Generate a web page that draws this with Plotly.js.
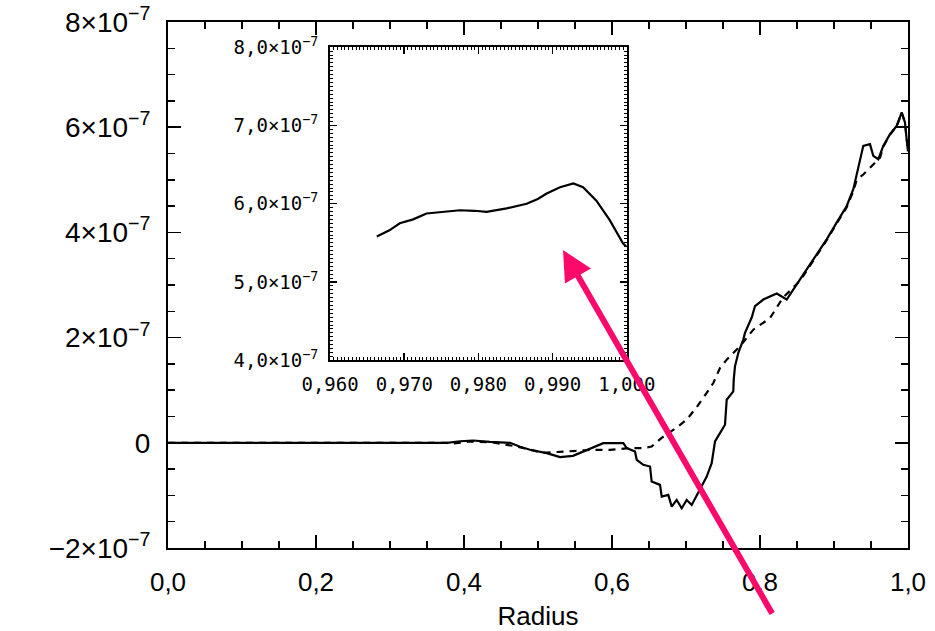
<!DOCTYPE html>
<html>
<head>
<meta charset="utf-8">
<script src="https://cdn.plot.ly/plotly-3.0.1.min.js"></script>
<style>html,body{margin:0;padding:0;background:#fff;}#chart{width:935px;height:631px;}</style>
</head>
<body>
<div id="chart"></div>
<script>
// Main panel: values of the y quantity in units of 1e-7
const solidRadius = [0, 0.377, 0.3946, 0.4122, 0.4351, 0.4622, 0.4757, 0.4892, 0.5118, 0.5297, 0.5473, 0.5658, 0.5882, 0.6153, 0.6199, 0.6311, 0.6334, 0.6423, 0.6514, 0.6536, 0.6649, 0.6672, 0.6761, 0.6807, 0.6874, 0.6942, 0.7009, 0.7077, 0.7145, 0.7212, 0.7280, 0.7347, 0.7392, 0.7459, 0.7527, 0.7550, 0.7639, 0.7645, 0.7662, 0.7707, 0.7774, 0.7797, 0.7888, 0.7932, 0.8045, 0.8226, 0.8361, 0.8541, 0.8720, 0.8901, 0.9036, 0.9172, 0.9261, 0.9328, 0.9396, 0.9486, 0.9531, 0.9599, 0.9666, 0.9757, 0.9847, 0.9915, 0.9959, 0.9982, 1.0];
const solidValue = [0, 0, 0.029, 0.044, 0.019, 0, -0.076, -0.133, -0.196, -0.272, -0.248, -0.133, -0.006, -0.006, -0.101, -0.166, -0.324, -0.419, -0.451, -0.737, -0.800, -1.023, -0.991, -1.213, -1.086, -1.244, -1.086, -1.181, -0.991, -0.832, -0.642, -0.387, 0.025, 0.185, 0.343, 0.819, 0.977, 1.2, 1.454, 1.709, 1.962, 2.09, 2.381, 2.597, 2.724, 2.838, 2.724, 3.105, 3.486, 3.867, 4.185, 4.502, 4.820, 5.201, 5.645, 5.677, 5.454, 5.391, 5.645, 5.867, 6.026, 6.281, 6.090, 5.77, 5.54];

const dashedRadius = [0, 0.377, 0.3811, 0.4081, 0.4392, 0.4712, 0.5068, 0.5388, 0.5743, 0.5973, 0.6243, 0.6423, 0.6536, 0.6667, 0.6874, 0.7009, 0.7145, 0.7280, 0.7369, 0.7459, 0.7550, 0.7730, 0.7909, 0.8135, 0.8311, 0.8541, 0.8720, 0.8901, 0.9036, 0.9172, 0.9261, 0.9307, 0.9396, 0.9486, 0.9622, 0.9666, 0.9757, 0.9847, 0.9915, 0.9959, 0.9982, 1.0];
const dashedValue = [0, 0, -0.019, 0.025, 0.006, -0.070, -0.191, -0.165, -0.133, -0.133, -0.10, -0.10, -0.07, 0.09, 0.29, 0.44, 0.68, 0.95, 1.137, 1.42, 1.581, 1.835, 2.15, 2.37, 2.76, 3.08, 3.46, 3.85, 4.17, 4.48, 4.78, 5.0, 5.10, 5.23, 5.42, 5.63, 5.86, 6.02, 6.27, 6.09, 5.77, 5.54];

// Inset panel
const insetRadius = [0.9663, 0.9680, 0.9694, 0.9712, 0.9730, 0.9752, 0.9775, 0.9795, 0.9811, 0.9838, 0.9865, 0.9880, 0.9892, 0.9910, 0.9928, 0.9941, 0.9959, 0.9977, 0.9995, 1.0];
const insetValue = [5.58, 5.66, 5.75, 5.80, 5.875, 5.90, 5.917, 5.91, 5.895, 5.94, 6.0, 6.06, 6.13, 6.21, 6.26, 6.21, 6.04, 5.79, 5.49, 5.45];

// Tick labels
const mainXTicks = [0, 0.2, 0.4, 0.6, 0.8, 1.0];
const mainXLabels = ['0,0', '0,2', '0,4', '0,6', '0,8', '1,0'];
const mainYTicks = [-2, 0, 2, 4, 6, 8];
const mainYLabels = ['−2×10<sup>−7</sup>', '0', '2×10<sup>−7</sup>', '4×10<sup>−7</sup>', '6×10<sup>−7</sup>', '8×10<sup>−7</sup>'];
const insetXTicks = [0.96, 0.97, 0.98, 0.99, 1.0];
const insetXLabels = ['0,960', '0,970', '0,980', '0,990', '1,000'];
const insetYTicks = [4, 5, 6, 7, 8];
const insetYLabels = ['4,0×10<sup>−7</sup>', '5,0×10<sup>−7</sup>', '6,0×10<sup>−7</sup>', '7,0×10<sup>−7</sup>', '8,0×10<sup>−7</sup>'];

const traces = [
  {x: dashedRadius, y: dashedValue, type: 'scatter', mode: 'lines', xaxis: 'x', yaxis: 'y',
   line: {color: '#000', width: 2.2, dash: '7px,6px'}, hoverinfo: 'skip'},
  {x: solidRadius, y: solidValue, type: 'scatter', mode: 'lines', xaxis: 'x', yaxis: 'y',
   line: {color: '#000', width: 2.2}, hoverinfo: 'skip'},
  {x: insetRadius, y: insetValue, type: 'scatter', mode: 'lines', xaxis: 'x2', yaxis: 'y2',
   line: {color: '#000', width: 2.2}, hoverinfo: 'skip'}
];

const mainFont = {family: 'Liberation Sans, Arial, sans-serif', size: 26, color: '#000'};
const mainYFont = {family: 'Liberation Sans, Arial, sans-serif', size: 28, color: '#000'};
const insetFont = {family: 'DejaVu Sans Mono, monospace', size: 19, color: '#000'};

const layout = {
  width: 935, height: 631,
  margin: {l: 168, r: 27, t: 22, b: 83, pad: 0},
  paper_bgcolor: '#fff', plot_bgcolor: '#fff',
  showlegend: false,
  xaxis: {
    domain: [0, 1], range: [0, 1], anchor: 'y',
    tickmode: 'array', tickvals: mainXTicks, ticktext: mainXLabels,
    ticks: 'inside', ticklen: 13, tickwidth: 1.5, tickcolor: '#000',
    minor: {dtick: 0.05, tick0: 0, ticks: 'inside', ticklen: 7, tickwidth: 1.5, tickcolor: '#000'},
    showline: true, linecolor: '#000', linewidth: 2, mirror: 'ticks',
    showgrid: false, zeroline: false,
    tickfont: mainFont, ticklabelstandoff: 10,
    title: {text: 'Radius', font: mainFont, standoff: 17},
    automargin: false
  },
  yaxis: {
    domain: [0, 1], range: [-2, 8], anchor: 'x',
    tickmode: 'array', tickvals: mainYTicks, ticktext: mainYLabels,
    ticks: 'inside', ticklen: 13, tickwidth: 1.5, tickcolor: '#000',
    minor: {dtick: 0.5, tick0: 0, ticks: 'inside', ticklen: 7, tickwidth: 1.5, tickcolor: '#000'},
    showline: true, linecolor: '#000', linewidth: 2, mirror: 'ticks',
    showgrid: false, zeroline: false,
    tickfont: mainYFont, ticklabelstandoff: 10,
    automargin: false
  },
  xaxis2: {
    domain: [0.219, 0.620], range: [0.96, 1.0], anchor: 'y2',
    tickmode: 'array', tickvals: insetXTicks, ticktext: insetXLabels,
    ticks: 'inside', ticklen: 7, tickwidth: 1.5, tickcolor: '#000',
    minor: {dtick: 0.0005, tick0: 0.96, ticks: 'inside', ticklen: 3, tickwidth: 1, tickcolor: '#000'},
    showline: true, linecolor: '#000', linewidth: 2, mirror: 'ticks',
    showgrid: false, zeroline: false,
    tickfont: insetFont, ticklabelstandoff: 6,
    automargin: false
  },
  yaxis2: {
    domain: [0.357, 0.952], range: [4, 8], anchor: 'x2',
    tickmode: 'array', tickvals: insetYTicks, ticktext: insetYLabels,
    ticks: 'inside', ticklen: 7, tickwidth: 1.5, tickcolor: '#000',
    minor: {dtick: 0.05, tick0: 4, ticks: 'inside', ticklen: 3, tickwidth: 1, tickcolor: '#000'},
    showline: true, linecolor: '#000', linewidth: 2, mirror: 'ticks',
    showgrid: false, zeroline: false,
    tickfont: insetFont, ticklabelstandoff: 6,
    automargin: false
  },
  annotations: [{
    xref: 'paper', yref: 'paper', x: 0.5338, y: 0.5665,
    axref: 'pixel', ayref: 'pixel', ax: 210, ay: 365,
    text: '', showarrow: true, arrowhead: 2, arrowsize: 1, arrowwidth: 6,
    arrowcolor: '#fb0a6b', standoff: 0
  }]
};

Plotly.newPlot('chart', traces, layout, {staticPlot: true, displayModeBar: false});
</script>
</body>
</html>
